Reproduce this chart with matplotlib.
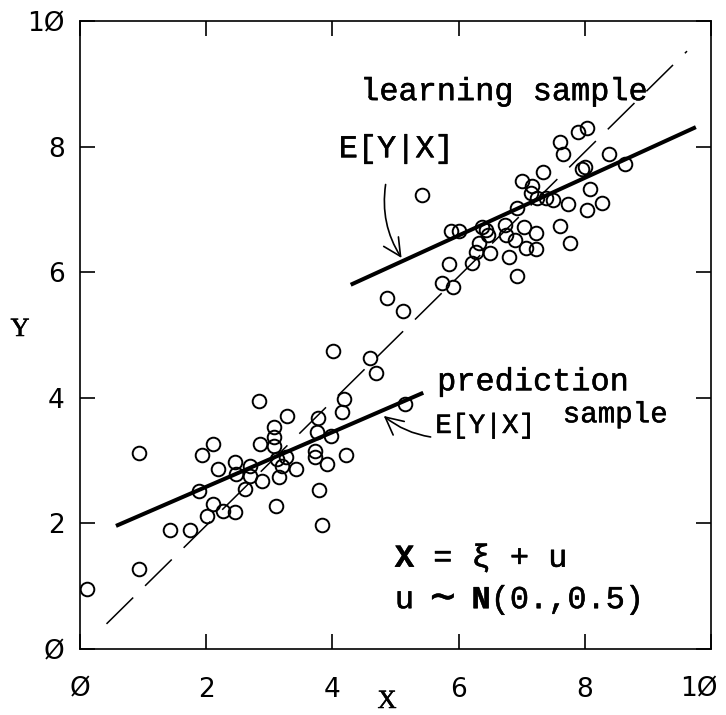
import matplotlib
matplotlib.use("Agg")
import matplotlib.pyplot as plt
import matplotlib.patheffects as pe
from matplotlib.patches import FancyArrowPatch
from matplotlib.transforms import offset_copy, ScaledTranslation

plt.rcParams['lines.scale_dashes'] = False

# ---- data -------------------------------------------------------------
# prediction sample (centred near xi ~ 3)
pred_x = [0.11, 0.94, 0.94, 1.43, 1.75, 2.10, 1.94, 2.18, 1.88, 2.11,
          2.02, 2.26, 2.45, 2.45, 2.83, 2.48, 2.69, 2.70, 2.62, 2.88,
          2.85, 3.07, 3.07, 3.07, 3.28, 3.12, 3.26, 3.20, 3.15, 3.42,
          3.10, 3.77, 3.75, 3.73, 3.73, 3.91, 3.78, 3.83, 4.15, 3.97,
          4.21, 4.18, 4.01, 4.59, 4.69, 5.15, 4.87, 5.12]
pred_y = [0.95, 3.12, 1.27, 1.89, 1.89, 3.26, 3.09, 2.87, 2.52, 2.31,
          2.12, 2.20, 2.18, 2.98, 3.95, 2.79, 2.92, 2.76, 2.55, 2.68,
          3.26, 3.53, 3.38, 3.24, 3.71, 3.03, 3.06, 2.92, 2.74, 2.87,
          2.27, 3.68, 3.45, 3.15, 3.05, 2.94, 2.53, 1.97, 3.77, 3.39,
          3.09, 3.98, 4.75, 4.63, 4.39, 3.90, 5.59, 5.39]

# learning sample (centred near xi ~ 7)
learn_x = [5.42, 5.88, 6.01, 5.85, 5.74, 5.91, 6.22, 6.28, 6.33, 6.37,
           6.43, 6.49, 6.46, 6.73, 6.75, 6.80, 6.93, 6.89, 7.04, 7.07,
           7.23, 7.22, 6.93, 7.01, 7.17, 7.15, 7.25, 7.33, 7.60, 7.65,
           7.90, 8.03, 7.95, 8.00, 8.38, 8.63, 8.08, 8.28, 8.03, 7.73,
           7.49, 7.39, 7.60, 7.76]
learn_y = [7.23, 6.66, 6.66, 6.13, 5.83, 5.77, 6.15, 6.32, 6.46, 6.72,
           6.67, 6.30, 6.59, 6.75, 6.59, 6.25, 5.94, 6.51, 6.72, 6.39,
           6.62, 6.37, 7.02, 7.45, 7.37, 7.26, 7.18, 7.59, 8.08, 7.88,
           8.23, 8.29, 7.65, 7.67, 7.89, 7.73, 7.33, 7.10, 6.99, 7.08,
           7.15, 7.18, 6.73, 6.47]

# structural line Y = xi
true_x = [0.42, 9.62]
true_y = [0.40, 9.52]

# conditional expectation lines
pred_fit_x = [0.57, 5.44]
pred_fit_y = [1.96, 4.08]
learn_fit_x = [4.29, 9.76]
learn_fit_y = [5.80, 8.31]

ticks = [0, 2, 4, 6, 8, 10]
tick_labels = ["Ø", "2", "4", "6", "8", "1Ø"]

# ---- figure -----------------------------------------------------------
W, H = 726, 715
fig = plt.figure(figsize=(W / 100, H / 100), dpi=100)
ax = fig.add_axes([80 / W, 1 - 649 / H, 631 / W, 628 / H])
ax.set_xlim(0, 10)
ax.set_ylim(0, 10)

mono = ['Liberation Mono', 'DejaVu Sans Mono']
serif = ['Liberation Serif', 'DejaVu Serif']
tickfont = ['Liberation Sans Narrow', 'DejaVu Sans']
heavy = [pe.withStroke(linewidth=0.35, foreground='black')]

ax.plot(true_x, true_y, color='black', lw=1.1, dashes=(27, 12))
ax.plot(pred_fit_x, pred_fit_y, color='black', lw=2.9, solid_capstyle='butt')
ax.plot(learn_fit_x, learn_fit_y, color='black', lw=2.9, solid_capstyle='butt')

mk = dict(ls='none', marker='o', ms=9.8, mfc='none', mec='black', mew=1.4)
ax.plot(pred_x, pred_y, **mk)
ax.plot(learn_x, learn_y, **mk)

# frame and ticks
for s in ax.spines.values():
    s.set_linewidth(1.2)
ax.set_xticks(ticks)
ax.set_yticks(ticks)
ax.set_xticklabels(tick_labels, family=tickfont, fontsize=19)
ax.set_yticklabels(tick_labels, family=tickfont, fontsize=19)
ax.tick_params(direction='in', length=11, width=1.2, top=True, right=True)
ax.tick_params(axis='x', pad=20)
ax.tick_params(axis='y', pad=11)
last = ax.get_xticklabels()[-1]
last.set_ha('right')
last.set_transform(last.get_transform() +
                   ScaledTranslation(7 / 100, 0, fig.dpi_scale_trans))

# axis titles
fig.text(387 / W, 1 - 702 / H, "X", family=serif, fontsize=19,
         ha='center', va='center', path_effects=heavy)
fig.text(20 / W, 1 - 330 / H, "Y", family=serif, fontsize=19,
         ha='center', va='center', path_effects=heavy)


# annotations
def note(x, y, s, size):
    ax.text(x, y, s, family=mono, fontsize=size, ha='left', va='baseline',
            path_effects=heavy)


note(4.44, 8.74, "learning sample", 23)
note(4.10, 7.83, "E[Y|X]", 23)
note(5.66, 4.12, "prediction", 23)
note(5.63, 3.44, "E[Y|X]", 20)
note(7.65, 3.61, "sample", 21)

fs = 23
adv = 0.6 * fs  # monospace advance, points


def mono_piece(x, y, k, s, bold=False, size=fs, dy=0):
    tr = offset_copy(ax.transData, fig=fig, x=adv * k, y=dy, units='points')
    ax.text(x, y, s, family=mono, fontsize=size, transform=tr,
            fontweight='bold' if bold else 'normal',
            ha='left', va='baseline', path_effects=heavy)


mono_piece(4.99, 1.31, 0, "X", bold=True)
mono_piece(4.99, 1.31, 2, "= ξ + u")
mono_piece(4.99, 0.65, 0, "u")
mono_piece(4.99, 0.65, 1.85, "∼", size=30, dy=-1)
mono_piece(4.99, 0.65, 4, "N", bold=True)
mono_piece(4.99, 0.65, 5, "(0.,0.5)")

arrow_kw = dict(arrowstyle='->,head_length=0.7,head_width=0.35',
                mutation_scale=18, color='black', lw=1.2)
ax.add_patch(FancyArrowPatch((4.85, 7.44), (5.12, 6.19),
                             connectionstyle='arc3,rad=0.2', **arrow_kw))
ax.add_patch(FancyArrowPatch((5.60, 3.37), (4.78, 3.74),
                             connectionstyle='arc3,rad=-0.15', **arrow_kw))

fig.savefig("out.png", dpi=100, facecolor='white')
